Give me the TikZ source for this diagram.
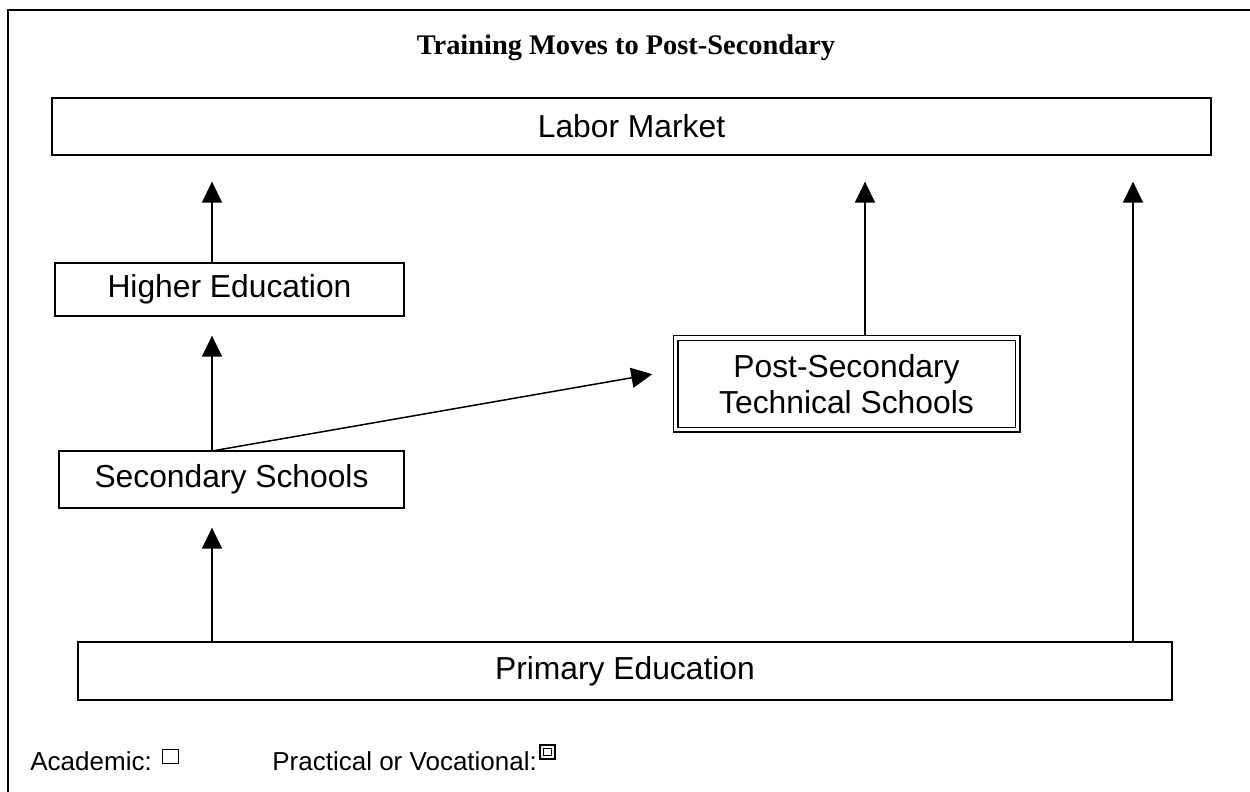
\documentclass[tikz,border=0pt]{standalone}
\usepackage{fontspec}
\setmainfont{Liberation Sans}
\newfontfamily\titlefont{Liberation Serif}
\usetikzlibrary{arrows.meta,calc}
\begin{document}
\begin{tikzpicture}[x=0.5pt,y=-0.5pt,
  box/.style={draw,line width=0.65pt,inner sep=0pt,align=center,font=\fontsize{15.9}{18}\selectfont},
  dbox/.style={draw,double,double distance=1.6pt,line width=0.7pt,inner sep=0pt,align=center,font=\fontsize{15.9}{18}\selectfont},
  arr/.style={line width=0.75pt,-{Triangle[length=10.5pt,width=10pt]}},
  frame/.style={line width=1pt},
  legend/.style={anchor=west,inner sep=0pt,font=\fontsize{13}{15}\selectfont}]
\useasboundingbox (0,0) rectangle (1250,792);
\draw[frame] (7.5,792) -- (7.5,10) -- (1250,10);
\node[font=\titlefont\bfseries\fontsize{14.2}{17}\selectfont] (title) at (626,48) {Training Moves to Post-Secondary};
\node[box,minimum width=579.5pt,minimum height=28.5pt] (labor) at (631.5,126.5) {Labor Market};
\node[box,minimum width=174.5pt,minimum height=26.5pt] (high) at (229.5,289.5) {Higher Education};
\node[box,minimum width=172.5pt,minimum height=28.5pt] (sec) at (231.5,479.5) {Secondary Schools};
\node[dbox,minimum width=171pt,minimum height=45.75pt] (post) at (846.5,383.75) {Post-Secondary\\Technical Schools};
\node[box,minimum width=547pt,minimum height=29pt] (prim) at (625,671) {Primary Education};
\coordinate (a1) at (212,642);
\coordinate (a2) at (212,451);
\coordinate (a3) at (212,263);
\coordinate (a5) at (865,335);
\coordinate (a6) at (1133,642);
\draw[arr,shorten >=9.5pt] (a1) -- (a1 |- sec.south);
\draw[arr,shorten >=9.5pt] (a2) -- (a2 |- high.south);
\draw[arr,shorten >=13pt] (a3) -- (a3 |- labor.south);
\draw[arr,shorten >=11.4pt] (a2) -- ($(post.west)+(0,-13.5)$);
\draw[arr,shorten >=13pt] (a5) -- (a5 |- labor.south);
\draw[arr,shorten >=13pt] (a6) -- (a6 |- labor.south);
\node[legend] (acad) at (30,761) {Academic:};
\draw[line width=0.5pt] (162,749) rectangle (178,763);
\node[legend] (voc) at (272,761) {Practical or Vocational:};
\draw[line width=0.6pt] (540,745) rectangle (555,759);
\draw[line width=0.9pt] (543.5,748.5) rectangle (551.5,755.5);
\end{tikzpicture}
\end{document}
